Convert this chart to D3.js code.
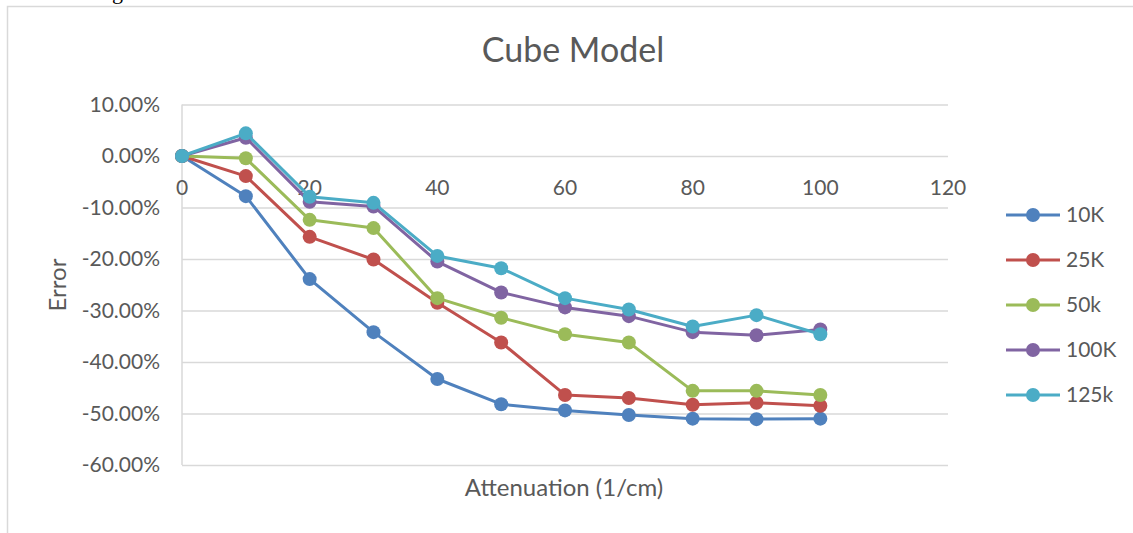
<!DOCTYPE html>
<html>
<head>
<meta charset="utf-8">
<script src="https://cdn.jsdelivr.net/npm/d3@7"></script>
<style>
  body { margin: 0; background: #fff; }
  text { font-family: Lato, "Open Sans", sans-serif; fill: #595959; }
</style>
</head>
<body>
<svg width="1133" height="533"></svg>
<script>
var attenuation = [0, 10, 20, 30, 40, 50, 60, 70, 80, 90, 100];
var seriesNames = ["10K", "25K", "50k", "100K", "125k"];
var colors = ["#4F81BD", "#C0504D", "#9BBB59", "#8064A2", "#4BACC6"];

// error in %
var err10K  = [0, -7.8, -23.9, -34.2, -43.3, -48.2, -49.4, -50.3, -51.0, -51.1, -51.0];
var err25K  = [0, -3.9, -15.7, -20.1, -28.5, -36.2, -46.4, -47.0, -48.3, -47.9, -48.5];
var err50k  = [0, -0.45, -12.4, -14.0, -27.6, -31.4, -34.6, -36.2, -45.6, -45.6, -46.4];
var err100K = [0, 3.55, -8.9, -9.8, -20.5, -26.5, -29.4, -31.1, -34.2, -34.8, -33.7];
var err125k = [0, 4.4, -7.9, -9.1, -19.4, -21.8, -27.6, -29.8, -33.1, -30.9, -34.6];

var xTicks = [0, 20, 40, 60, 80, 100, 120];
var yTicks = [10, 0, -10, -20, -30, -40, -50, -60];

var allSeries = [err10K, err25K, err50k, err100K, err125k];

var svg = d3.select("svg");

// outer chart border (extends past the picture on the right and bottom)
svg.append("path")
  .attr("d", "M7.5,540 L7.5,6.5 L1140,6.5")
  .attr("fill", "none")
  .attr("stroke", "#d9d9d9")
  .attr("stroke-width", 1.5);

// descender of a word cut off above the chart
svg.append("text")
  .attr("x", 112).attr("y", -1)
  .style("font-family", "'Liberation Serif', serif")
  .style("font-size", "22px")
  .style("fill", "#000")
  .text("g");

var xScale = d3.scaleLinear().domain([0, 120]).range([182, 948]);
var yScale = d3.scaleLinear().domain([-60, 10]).range([465, 104.5]);

// gridlines
svg.append("g")
  .attr("transform", "translate(182,0)")
  .call(d3.axisLeft(yScale).tickValues(yTicks).tickSize(-(948 - 182)).tickFormat(""))
  .call(g => g.select(".domain").remove())
  .call(g => g.selectAll("line").attr("stroke", "#d9d9d9").attr("stroke-width", 1.5));

// y axis line
svg.append("line")
  .attr("x1", 182).attr("x2", 182)
  .attr("y1", yScale(10)).attr("y2", yScale(-60))
  .attr("stroke", "#d9d9d9").attr("stroke-width", 1.5);

// y tick labels
svg.append("g").selectAll("text")
  .data(yTicks)
  .enter()
  .append("text")
  .attr("x", 160)
  .attr("y", d => yScale(d))
  .attr("dy", "0.35em")
  .attr("text-anchor", "end")
  .style("font-size", "21px")
  .text(d => d.toFixed(2) + "%");

// x tick labels, under the zero line
svg.append("g").selectAll("text")
  .data(xTicks)
  .enter()
  .append("text")
  .attr("x", d => xScale(d))
  .attr("y", yScale(0) + 39)
  .attr("text-anchor", "middle")
  .style("font-size", "21px")
  .text(d => d);

// title and axis titles
svg.append("text")
  .attr("x", 573).attr("y", 62)
  .attr("text-anchor", "middle")
  .style("font-size", "34px")
  .text("Cube Model");

svg.append("text")
  .attr("x", 564).attr("y", 496)
  .attr("text-anchor", "middle")
  .style("font-size", "24px")
  .text("Attenuation (1/cm)");

svg.append("text")
  .attr("transform", "translate(66,285) rotate(-90)")
  .attr("text-anchor", "middle")
  .style("font-size", "24px")
  .text("Error");

// lines and markers
var line = d3.line()
  .x((d, i) => xScale(attenuation[i]))
  .y(d => yScale(d));

allSeries.forEach((values, s) => {
  var g = svg.append("g");
  g.append("path")
    .attr("d", line(values))
    .attr("fill", "none")
    .attr("stroke", colors[s])
    .attr("stroke-width", 3)
    .attr("stroke-linejoin", "round");
  g.selectAll("circle")
    .data(values)
    .enter()
    .append("circle")
    .attr("cx", (d, i) => xScale(attenuation[i]))
    .attr("cy", d => yScale(d))
    .attr("r", 7)
    .attr("fill", colors[s]);
});

// legend
var legend = svg.append("g").selectAll("g")
  .data(seriesNames)
  .enter()
  .append("g")
  .attr("transform", (d, i) => "translate(0," + (215 + i * 45) + ")");

legend.append("line")
  .attr("x1", 1006).attr("x2", 1060)
  .attr("stroke", (d, i) => colors[i])
  .attr("stroke-width", 3);
legend.append("circle")
  .attr("cx", 1033).attr("r", 7)
  .attr("fill", (d, i) => colors[i]);
legend.append("text")
  .attr("x", 1066)
  .attr("dy", "0.35em")
  .style("font-size", "21px")
  .text(d => d);
</script>
</body>
</html>
